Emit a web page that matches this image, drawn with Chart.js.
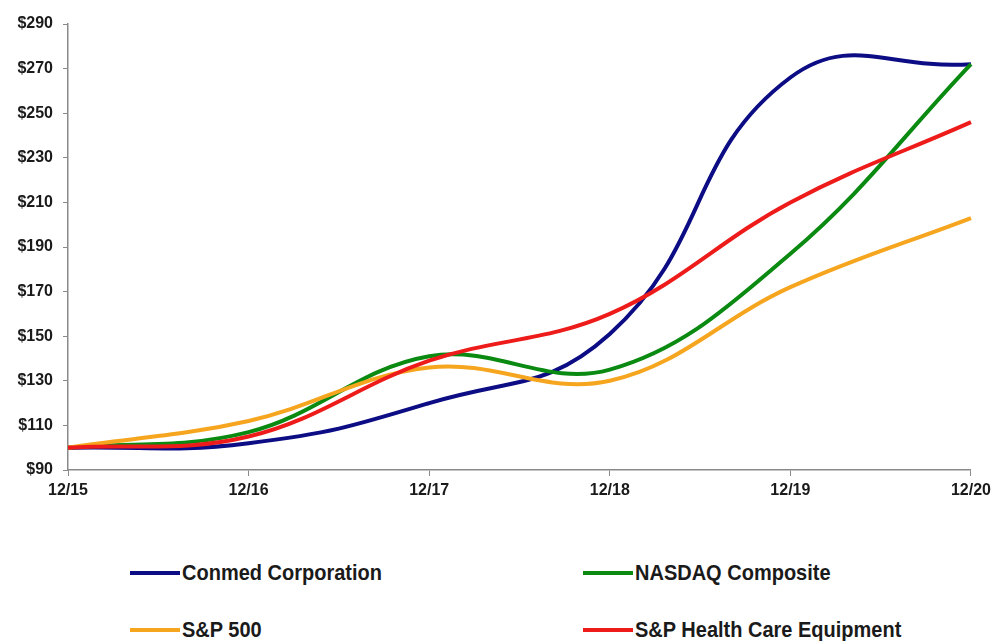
<!DOCTYPE html>
<html>
<head>
<meta charset="utf-8">
<script src="https://cdn.jsdelivr.net/npm/chart.js@4.4.0/dist/chart.umd.min.js"></script>
<style>
    html, body { margin: 0; padding: 0; background: #fff; }
    #wrap { position: relative; width: 996px; height: 641px; }
    #chart-box { position: absolute; left: 0; top: 0; width: 996px; height: 510px; }
    .legend-item { position: absolute; display: flex; align-items: center; font-family: "Liberation Sans Narrow", "Liberation Sans", Arial, sans-serif; font-weight: bold; font-size: 20px; color: #1a1a1a; }
    .legend-item .swatch { width: 50px; height: 4px; margin-right: 2px; }
    .legend-item .txt { display: inline-block; transform: scaleY(1.1); }
</style>
</head>
<body>
<div id="wrap">
    <div id="chart-box"><canvas id="perf-chart"></canvas></div>
    <div id="legend"></div>
</div>
<script>
    const periods = ['12/15', '12/16', '12/17', '12/18', '12/19', '12/20'];
    const conmed = [100, 102, 120, 151, 266, 272];
    const nasdaq = [100, 107, 141, 135, 187, 272];
    const sp500 = [100, 112, 136, 130, 172, 203];
    const spHealthCare = [100, 105, 139, 160, 210, 246];
    const yTicks = [90, 110, 130, 150, 170, 190, 210, 230, 250, 270, 290];

    const seriesNames = ['Conmed Corporation', 'NASDAQ Composite', 'S&P 500', 'S&P Health Care Equipment'];
    const seriesColors = ['#0c0c84', '#0b8a12', '#f6a51f', '#ee1b1b'];
    const seriesData = [conmed, nasdaq, sp500, spHealthCare];

    // legend placement, two columns like the original
    const legendSpots = [[130, 573], [583, 573], [130, 630], [583, 630]];
    const legend = document.getElementById('legend');
    seriesNames.forEach((name, i) => {
        const item = document.createElement('div');
        item.className = 'legend-item';
        item.style.left = legendSpots[i][0] + 'px';
        item.style.top = (legendSpots[i][1] - 12) + 'px';
        item.innerHTML = `<span class="swatch" style="background:${seriesColors[i]}"></span><span class="txt">${name}</span>`;
        legend.appendChild(item);
    });

    const tickFont = {family: '"Liberation Sans", Arial, sans-serif', weight: 'bold', size: 16};

    new Chart(document.getElementById('perf-chart'), {
        type: 'line',
        data: {
            labels: periods,
            datasets: seriesData.map((vals, i) => ({
                label: seriesNames[i],
                data: vals,
                borderColor: seriesColors[i],
                borderWidth: 4,
                pointRadius: 0,
                tension: i === 0 ? 0.45 : 0.38,
                fill: false,
                order: 4 - i
            }))
        },
        options: {
            responsive: true,
            maintainAspectRatio: false,
            animation: false,
            layout: {padding: {top: 24, right: 25, left: 0, bottom: 0}},
            plugins: {
                legend: {display: false},
                tooltip: {enabled: false}
            },
            scales: {
                x: {
                    offset: false,
                    grid: {drawOnChartArea: false, color: '#8a8a8a', tickLength: 6},
                    border: {color: '#8a8a8a', width: 1.5},
                    ticks: {color: '#1a1a1a', font: tickFont, maxRotation: 0, padding: 5},
                    afterFit: scale => { scale.height = 40; }
                },
                y: {
                    min: 90,
                    max: 290,
                    afterBuildTicks: scale => { scale.ticks = yTicks.map(v => ({value: v})); },
                    grid: {drawOnChartArea: false, color: '#8a8a8a', tickLength: 5},
                    border: {color: '#8a8a8a', width: 1.5},
                    ticks: {color: '#1a1a1a', font: tickFont, padding: 10, callback: v => '$' + v},
                    afterFit: scale => { scale.width = 68; }
                }
            }
        }
    });
</script>
</body>
</html>
